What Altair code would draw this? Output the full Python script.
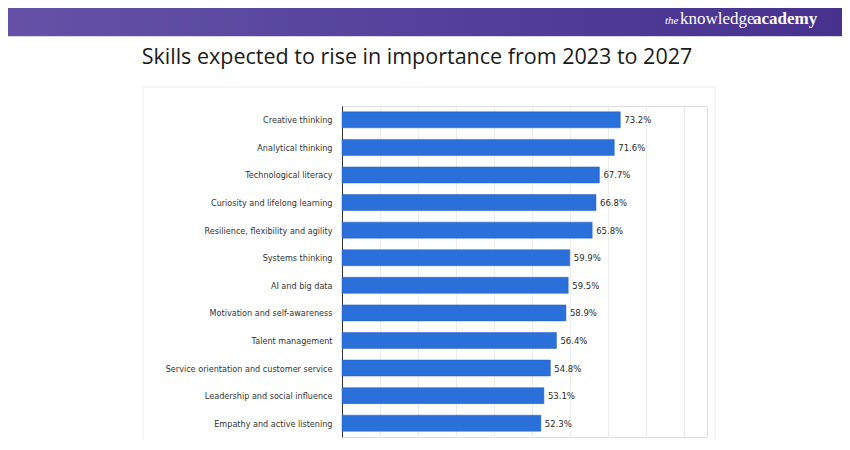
import altair as alt
import pandas as pd

skills = [
    "Creative thinking",
    "Analytical thinking",
    "Technological literacy",
    "Curiosity and lifelong learning",
    "Resilience, flexibility and agility",
    "Systems thinking",
    "AI and big data",
    "Motivation and self-awareness",
    "Talent management",
    "Service orientation and customer service",
    "Leadership and social influence",
    "Empathy and active listening",
]
shares = [73.2, 71.6, 67.7, 66.8, 65.8, 59.9, 59.5, 58.9, 56.4, 54.8, 53.1, 52.3]
grid_values = [0, 10, 20, 30, 40, 50, 60, 70, 80, 90]

title_text = "Skills expected to rise in importance from 2023 to 2027"

df = pd.DataFrame({"skill": skills, "share": shares})
df["label"] = [f"{v:.1f}%" for v in shares]

W, H = 365, 331
PL, PT = 334, 98

xscale = alt.Scale(domain=[0, 96], nice=False, zero=True)
yenc = alt.Y("skill:N", sort=skills, title=None,
             axis=alt.Axis(domainColor="#333333", domainWidth=1, ticks=False,
                           labelFont="DejaVu Sans", labelFontSize=8.1,
                           labelColor="#333333", labelPadding=10,
                           labelOffset=1.5, labelLimit=400, grid=False))

base = alt.Chart(df)

bars = base.mark_bar(size=16, color="#2b6fda", stroke="#2560c0",
                     strokeWidth=0.5).encode(
    x=alt.X("share:Q", scale=xscale, title=None,
            axis=alt.Axis(values=grid_values, labels=False, ticks=False,
                          domain=False, grid=True, gridColor="#ececec",
                          gridWidth=1)),
    y=yenc,
)

labels = base.mark_text(align="left", baseline="middle", dx=4, dy=0.5,
                        font="DejaVu Sans", fontSize=8.5,
                        color="#2a2a2a").encode(
    x=alt.X("share:Q", scale=xscale),
    y=alt.Y("skill:N", sort=skills),
    text="label:N",
)

deco = alt.Chart(pd.DataFrame({"k": [0]}))

panel = deco.mark_rect(fillOpacity=0, fill="white", stroke="#eeeeee",
                       strokeWidth=1).encode(
    x=alt.value(-199), x2=alt.value(373), y=alt.value(-19), y2=alt.value(340)
)

banner = deco.mark_rect(
    color=alt.Gradient(
        gradient="linear",
        stops=[alt.GradientStop(color="#6552a7", offset=0),
               alt.GradientStop(color="#55419b", offset=0.5),
               alt.GradientStop(color="#46318c", offset=1)],
        x1=0, x2=1, y1=0, y2=0,
    )
).encode(x=alt.value(-334), x2=alt.value(500), y=alt.value(-98), y2=alt.value(-70))

banner_line = deco.mark_rect(color="#d6d6dc").encode(
    x=alt.value(-334), x2=alt.value(500), y=alt.value(-70), y2=alt.value(-69)
)

logo_the = deco.mark_text(text="the", font="Liberation Serif", fontStyle="italic",
                          fontSize=11, color="white", align="left",
                          baseline="alphabetic").encode(
    x=alt.value(323), y=alt.value(-82))
logo_k = deco.mark_text(text="knowledge", font="Liberation Serif", fontSize=17,
                        color="white", align="left",
                        baseline="alphabetic").encode(
    x=alt.value(338), y=alt.value(-82))
logo_a = deco.mark_text(text="academy", font="Liberation Serif", fontSize=17,
                        fontWeight="bold", color="white", align="left",
                        baseline="alphabetic").encode(
    x=alt.value(411), y=alt.value(-82))

title = deco.mark_text(text=title_text, font="Open Sans", fontSize=21.5,
                       color="#1a1a1a", align="center",
                       baseline="alphabetic").encode(
    x=alt.value(75), y=alt.value(-42))

chart = alt.layer(
    banner, banner_line, logo_the, logo_k, logo_a, title, panel, bars, labels
).properties(
    width=W, height=H,
    autosize=alt.AutoSizeParams(type="none"),
    padding={"left": PL, "top": PT, "right": 834 - PL - W, "bottom": 432 - PT - H},
).configure_view(strokeOpacity=0).configure(background="white")

chart.save("out.html", embed_options={"renderer": "svg", "actions": False})
